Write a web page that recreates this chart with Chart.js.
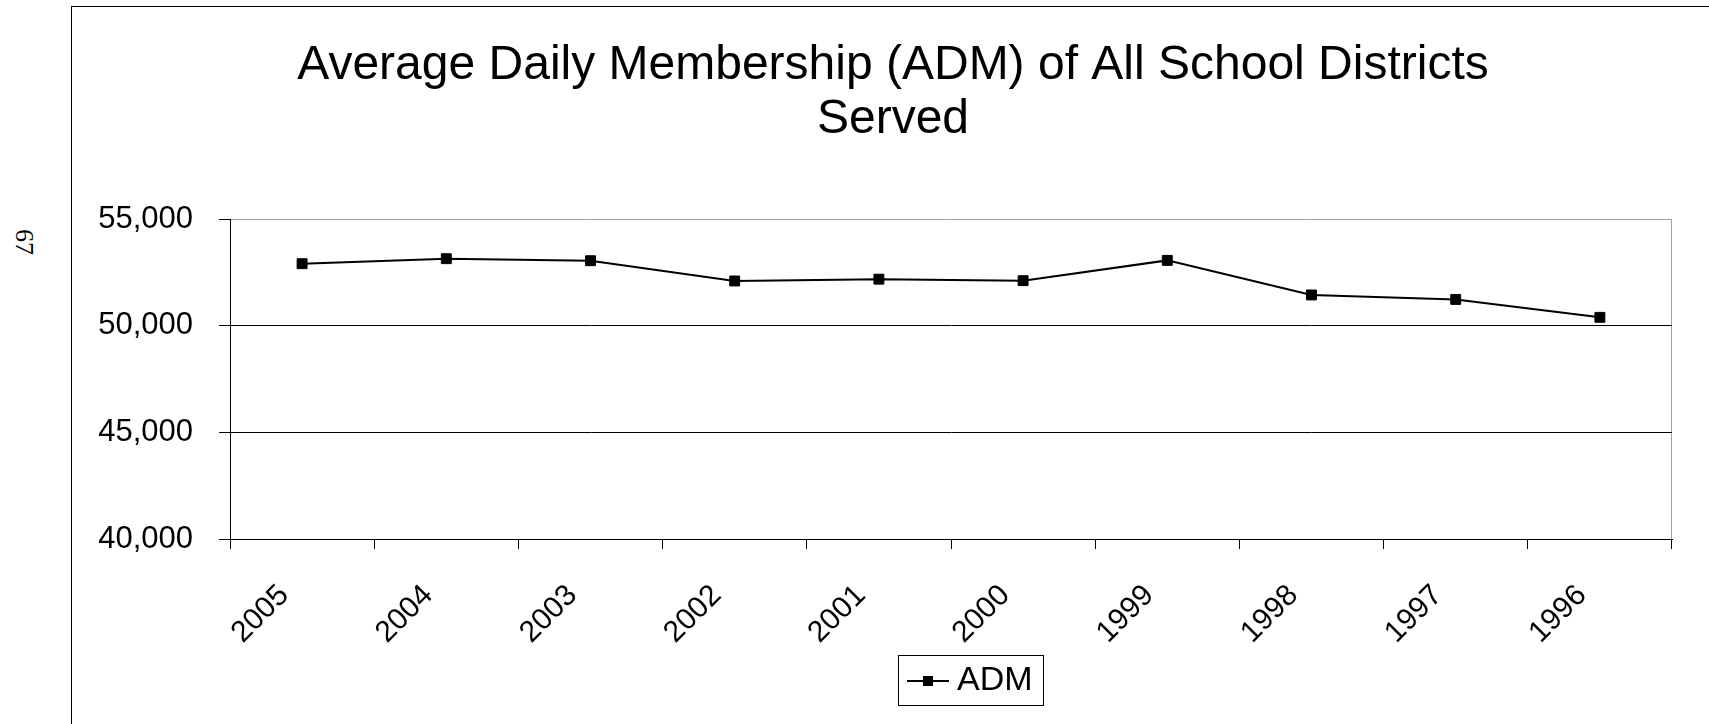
<!DOCTYPE html>
<html>
<head>
<meta charset="utf-8">
<script src="https://cdn.jsdelivr.net/npm/chart.js@4/dist/chart.umd.min.js"></script>
<style>
  html, body { margin: 0; padding: 0; background: #fff; width: 1709px; height: 724px; overflow: hidden; }
  #frame { position: absolute; left: 71px; top: 6px; width: 1700px; height: 800px; border-left: 1px solid #000; border-top: 1px solid #000; box-sizing: border-box; }
  #pageno { position: absolute; left: 24px; top: 242px; transform: translate(-50%, -50%) rotate(90deg); font: 26px "Liberation Serif", "Times New Roman", serif; color: #000; }
  #wrap { position: absolute; left: 0; top: 0; width: 1709px; height: 724px; }
</style>
</head>
<body>
<div id="frame"></div>
<div id="pageno">67</div>
<div id="wrap"><canvas id="c" width="1709" height="724"></canvas></div>
<script>
const titleLines = ['Average Daily Membership (ADM) of All School Districts', 'Served'];
const categories = ['2005', '2004', '2003', '2002', '2001', '2000', '1999', '1998', '1997', '1996'];
const admValues = [52905, 53140, 53045, 52095, 52180, 52110, 53060, 51440, 51230, 50390];
const seriesName = 'ADM';
const yMin = 40000;
const yMax = 55000;
const yStep = 5000;

const FONT = '"Liberation Sans", Arial, Helvetica, sans-serif';

function fmt(v) { return String(Math.round(v)).replace(/\B(?=(\d{3})+(?!\d))/g, ','); }

// legend marker image: line with square
const mk = document.createElement('canvas');
mk.width = 42; mk.height = 12;
(function () {
  const g = mk.getContext('2d');
  g.strokeStyle = '#000'; g.lineWidth = 2;
  g.beginPath(); g.moveTo(0, 6); g.lineTo(42, 6); g.stroke();
  g.fillStyle = '#000'; g.fillRect(16, 1, 10, 10);
})();

const placer = {
  id: 'placer',
  afterLayout(chart) {
    const tb = chart.titleBlock;
    if (tb) {
      const dt = 893 - (tb.left + tb.right) / 2;
      tb.left += dt; tb.right += dt;
    }
    const lg = chart.legend;
    if (!lg || !lg.lineWidths) return;
    const p = lg.options.labels.padding;
    const cur = (lg.left + p + lg.right - lg.lineWidths[0]) / 2;
    const d = 916 - cur;
    lg.left += d; lg.right += d;
  },
  afterDraw(chart) {
    const lg = chart.legend;
    if (!lg || !lg.legendHitBoxes || !lg.legendHitBoxes.length) return;
    const hb = lg.legendHitBoxes[0];
    const ctx = chart.ctx;
    ctx.save();
    ctx.strokeStyle = '#000';
    ctx.lineWidth = 1;
    const l = Math.round(hb.left - 18) + 0.5;
    const t = Math.round(hb.top - 9) + 0.5;
    const r = Math.round(hb.left + hb.width + 10) + 0.5;
    const b = Math.round(hb.top + hb.height + 7) + 0.5;
    ctx.strokeRect(l, t, r - l, b - t);
    ctx.restore();
  }
};

new Chart(document.getElementById('c'), {
  type: 'line',
  data: {
    labels: categories,
    datasets: [{
      label: seriesName,
      data: admValues,
      borderColor: '#000',
      backgroundColor: '#000',
      borderWidth: 2,
      tension: 0,
      pointStyle: 'rect',
      pointRadius: 7,
      pointBorderWidth: 1,
      pointBackgroundColor: '#000',
      pointBorderColor: '#000',
      fill: false
    }]
  },
  options: {
    responsive: false,
    animation: false,
    devicePixelRatio: 1,
    layout: { padding: { left: 60, right: 37, top: 0, bottom: 16 } },
    plugins: {
      title: {
        display: true,
        text: titleLines,
        color: '#000',
        font: { family: FONT, size: 48, weight: 'normal', lineHeight: 1.125 },
        padding: { top: 39, bottom: 72 }
      },
      legend: {
        display: true,
        position: 'bottom',
        labels: {
          color: '#000',
          font: { family: FONT, size: 34 },
          padding: 10,
          usePointStyle: true,
          pointStyle: mk,
          pointStyleWidth: 24
        }
      },
      tooltip: { enabled: false }
    },
    scales: {
      x: {
        type: 'category',
        offset: true,
        afterFit(s) { s.height = 115; },
        grid: {
          offset: true,
          drawOnChartArea: true,
          color: (c) => (c.type === 'tick' ? 'rgba(0,0,0,0)' : '#a0a0a0'),
          tickColor: '#000',
          tickLength: 10,
          lineWidth: 1
        },
        border: { display: true, color: '#000', width: 1 },
        ticks: {
          autoSkip: false,
          maxRotation: 45,
          minRotation: 45,
          color: '#000',
          padding: 29,
          labelOffset: -18,
          font: { family: FONT, size: 30 }
        }
      },
      y: {
        min: yMin,
        max: yMax,
        afterFit(s) { s.width = 170; },
        grid: {
          color: (c) => (c.tick && c.tick.value === yMax ? '#a0a0a0' : '#000'),
          tickColor: '#000',
          tickLength: 11,
          lineWidth: 1
        },
        border: { display: true, color: '#000', width: 1 },
        ticks: {
          stepSize: yStep,
          color: '#000',
          padding: 26,
          font: { family: FONT, size: 31 },
          callback: (v) => fmt(v)
        }
      }
    }
  },
  plugins: [placer]
});
</script>
</body>
</html>
